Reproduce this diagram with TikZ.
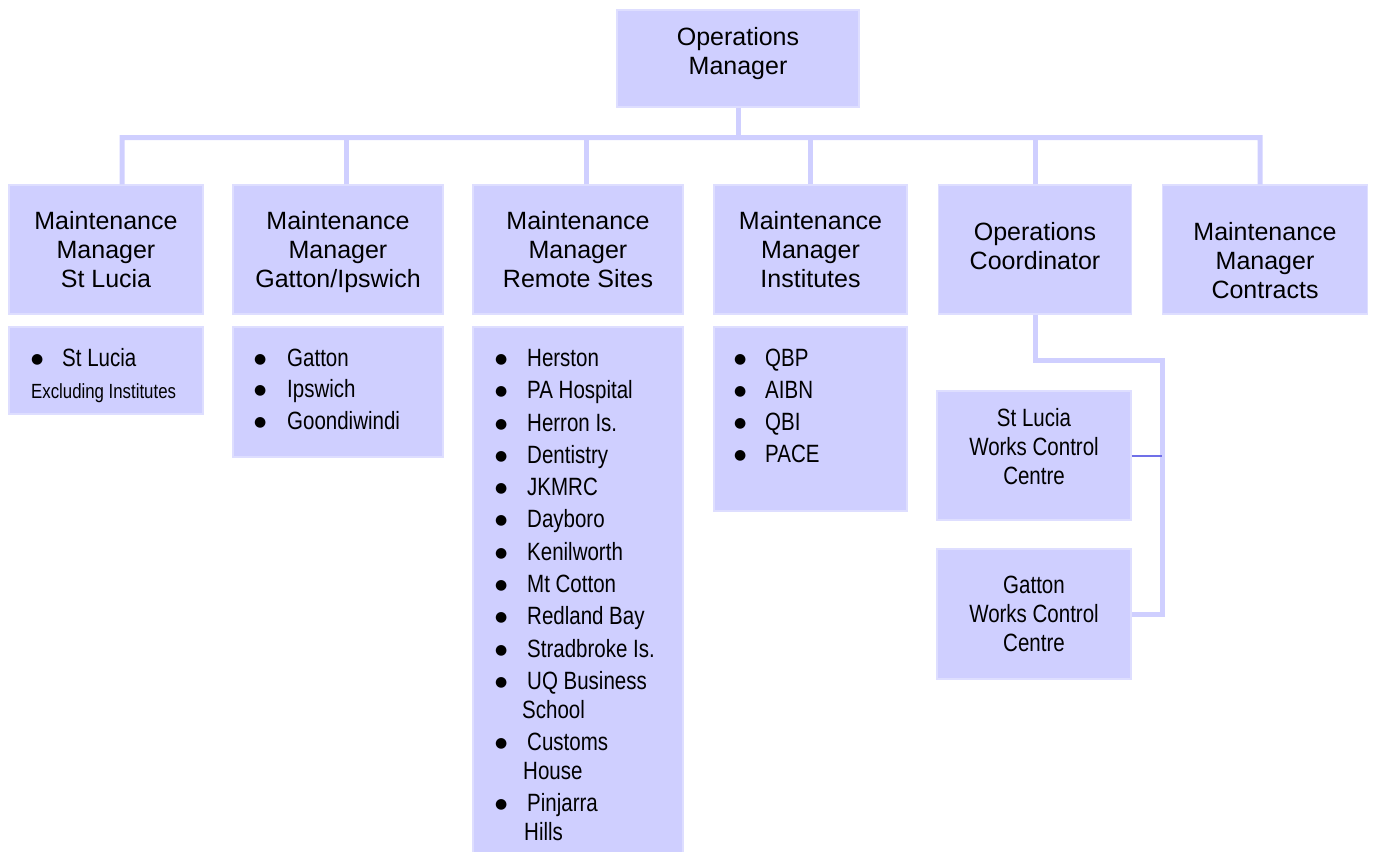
\documentclass[tikz,border=0pt]{standalone}
\usepackage{fontspec}
\setmainfont{Liberation Sans}
\newfontfamily\narrowfont[FakeStretch=0.82]{Liberation Sans}
\newfontfamily\dejavu{DejaVu Sans}
\definecolor{lav}{RGB}{207,207,255}
\definecolor{lavedge}{RGB}{222,222,255}
\definecolor{darkline}{RGB}{112,112,232}
\tikzset{
  box/.style={fill=lav, draw=lavedge, line width=1.5bp, inner sep=0pt, align=center,
    font=\fontsize{25bp}{29bp}\selectfont},
  nbox/.style={box, font=\narrowfont\fontsize{25bp}{29bp}\selectfont},
  conn/.style={draw=lav, line width=5bp},
  thinconn/.style={draw=darkline, line width=2bp},
  item/.style={anchor=base west, inner sep=0pt, font=\narrowfont\fontsize{25bp}{29bp}\selectfont},
  smallitem/.style={anchor=base west, inner sep=0pt, font=\narrowfont\fontsize{20.5bp}{24bp}\selectfont}
}
\newcommand{\bul}[1][34bp]{\makebox[#1][l]{\hspace{2bp}\raisebox{3bp}{\dejavu\fontsize{14bp}{14bp}\selectfont ●}}}
\begin{document}
\begin{tikzpicture}[x=1bp,y=-1bp]
\useasboundingbox (0,0) rectangle (1375,851);
% top
\node[box, minimum width=242bp, minimum height=97bp] (top) at (738,58.5) {Operations\\Manager\rule[-15bp]{0pt}{0pt}};
% managers
\node[box, minimum width=194bp, minimum height=129bp] (m1) at (106,249.5) {Maintenance\\Manager\\St Lucia};
\node[box, minimum width=210bp, minimum height=129bp] (m2) at (338,249.5) {Maintenance\\Manager\\\raisebox{0pt}[\height][0pt]{Gatton/Ipswich}};
\node[box, minimum width=210bp, minimum height=129bp] (m3) at (578,249.5) {Maintenance\\Manager\\Remote Sites};
\node[box, minimum width=193bp, minimum height=129bp] (m4) at (810.5,249.5) {Maintenance\\Manager\\Institutes};
\node[box, minimum width=193bp, minimum height=129bp] (m5) at (1035,249.5) {Operations\\Coordinator\rule[-8bp]{0pt}{0pt}};
\node[box, minimum width=205bp, minimum height=129bp] (m6) at (1265,249.5) {\rule{0pt}{40bp}Maintenance\\Manager\\Contracts};
% list boxes
\node[box, minimum width=194bp, minimum height=87bp] (l1) at (106,370.5) {};
\node[box, minimum width=210bp, minimum height=130bp] (l2) at (338,392) {};
\node[box, minimum width=210bp, minimum height=527bp] (l3) at (578,590.5) {};
\node[box, minimum width=193bp, minimum height=184bp] (l4) at (810.5,419) {};
% works control centres
\node[nbox, minimum width=194bp, minimum height=129bp] (ws) at (1034,455.5) {St Lucia\\Works Control\\Centre\rule[-18bp]{0pt}{0pt}};
\node[nbox, minimum width=194bp, minimum height=130bp] (wg) at (1034,614) {Gatton\\Works Control\\Centre};
% list items
\node[item] (a1) at (29,366) {\bul[33bp]St Lucia};
\node[smallitem] (a2) at (31,398) {Excluding Institutes};
\node[item] (b1) at (252,366) {\bul[35bp]Gatton};
\node[item] (b2) at (252,397.5) {\bul[35bp]Ipswich};
\node[item] (b3) at (252,429) {\bul[35bp]Goondiwindi};
\node[item] (c1) at (493,366) {\bul Herston};
\node[item] (c2) at (493,398.5) {\bul PA Hospital};
\node[item] (c3) at (493,431) {\bul Herron Is.};
\node[item] (c4) at (493,463) {\bul Dentistry};
\node[item] (c5) at (493,495.5) {\bul JKMRC};
\node[item] (c6) at (493,527.5) {\bul Dayboro};
\node[item] (c7) at (493,560) {\bul Kenilworth};
\node[item] (c8) at (493,592) {\bul Mt Cotton};
\node[item] (c9) at (493,624.5) {\bul Redland Bay};
\node[item] (c10) at (493,657) {\bul Stradbroke Is.};
\node[item] (c11) at (493,689.5) {\bul UQ Business};
\node[item] (c11b) at (522,718) {School};
\node[item] (c12) at (493,750.5) {\bul Customs};
\node[item] (c12b) at (523,779) {House};
\node[item] (c13) at (493,811.5) {\bul Pinjarra};
\node[item] (c13b) at (524,840) {Hills};
\node[item] (d1) at (732,366) {\bul[33bp]QBP};
\node[item] (d2) at (732,398) {\bul[33bp]AIBN};
\node[item] (d3) at (732,430) {\bul[33bp]QBI};
\node[item] (d4) at (732,462) {\bul[33bp]PACE};
% connectors
\coordinate (busL) at (122,137.5);
\coordinate (busR) at (1260,137.5);
\coordinate (p1) at ([xshift=16bp]m1.north);
\coordinate (p2) at ([xshift=8bp]m2.north);
\coordinate (p3) at ([xshift=8bp]m3.north);
\coordinate (p6) at ([xshift=-5bp]m6.north);
\draw[conn] (p1) -- (busL) -- (busR) -- (p6);
\draw[conn] (top.south) -- (top.south |- busL);
\draw[conn] (p2) -- (p2 |- busL);
\draw[conn] (p3) -- (p3 |- busL);
\draw[conn] (m4.north) -- (m4.north |- busL);
\draw[conn] (m5.north) -- (m5.north |- busL);
\coordinate (cr) at (1162,360);
\draw[conn] (m5.south) |- (cr) |- (wg.east);
\draw[thinconn] (ws.east) -- (ws.east -| cr);
\end{tikzpicture}
\end{document}
